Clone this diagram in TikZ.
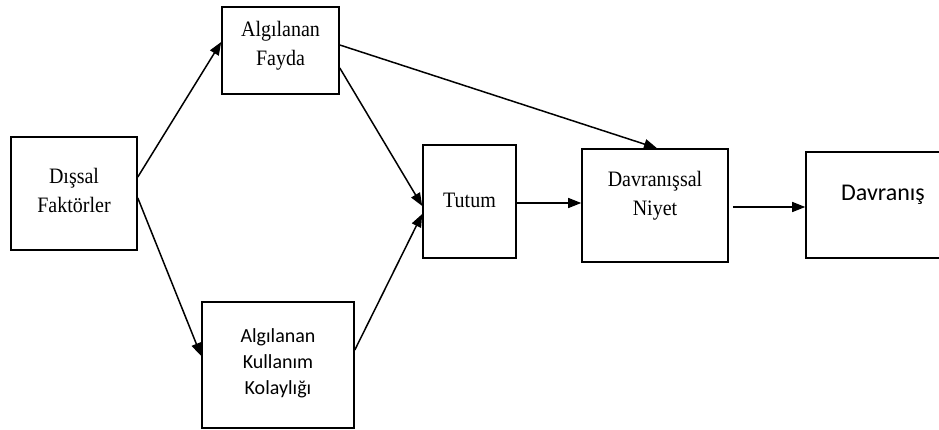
\documentclass[tikz,border=0pt]{standalone}
\usepackage{fontspec}
\usepackage{graphicx}
\setmainfont{Liberation Serif}
\newfontfamily\calibrifont{Carlito}
\usetikzlibrary{arrows.meta,calc}

% centred lines of text hung from the first baseline, which sits #1 above the
% node centre; the serif lines are stretched upright a little
\newcommand{\stackedtext}[2]{\raisebox{#1}[0pt][0pt]{%
  \scalebox{1}[1.1]{\begin{tabular}[t]{@{}c@{}}#2\end{tabular}}}}
\newcommand{\plainstack}[2]{\raisebox{#1}[0pt][0pt]{%
  \begin{tabular}[t]{@{}c@{}}#2\end{tabular}}}

\tikzset{
  box/.style={draw, line width=1.6pt, inner sep=0pt, align=center,
    font=\fontsize{20}{25.5}\selectfont},
  sansbox/.style={draw, line width=1.6pt, inner sep=0pt, align=center,
    font=\calibrifont\fontsize{20}{26}\selectfont},
  link/.style={line width=1.5pt, -{Triangle[length=13pt,width=10pt]}},
}

\begin{document}
\begin{tikzpicture}[x=1pt,y=-1pt]
  \useasboundingbox (0,0) rectangle (939,430);

  % boxes
  \node[box, minimum width=126pt, minimum height=113pt] (disal) at (74,193.5)
    {\stackedtext{9.5pt}{Dışsal\\Faktörler}};
  \node[box, minimum width=117pt, minimum height=87pt] (fayda) at (280.5,50.5)
    {\stackedtext{13.5pt}{Algılanan\\Fayda}};
  \node[sansbox, minimum width=152pt, minimum height=126pt] (kolay) at (278,365)
    {\plainstack{23pt}{Algılanan\\Kullanım\\Kolaylığı}};
  \node[box, minimum width=93pt, minimum height=113pt] (tutum) at (469.5,201.5)
    {\stackedtext{-6.5pt}{Tutum}};
  \node[box, minimum width=146pt, minimum height=113pt] (niyet) at (655,205.5)
    {\stackedtext{18.5pt}{Davranışsal\\Niyet}};
  \node[sansbox, font=\calibrifont\fontsize{24}{28}\selectfont,
        minimum width=154pt, minimum height=106pt] (davr) at (883,205)
    {\plainstack{4pt}{Davranış}};

  % connectors
  \draw[link] ($(disal.east)+(0,-16.5)$) -- ($(fayda.west)+(0,-8.5)$);
  \draw[link] ($(disal.east)+(0,4.5)$) -- ($(kolay.west)+(0,-9)$);
  \draw[link] ($(fayda.east)+(0,-5.5)$) -- ($(niyet.north)+(2,0)$);
  \draw[link] ($(fayda.east)+(0,17.5)$) -- ($(tutum.west)+(0,4.5)$);
  \draw[link] ($(kolay.east)+(0,-15)$) -- ($(tutum.west)+(0,12.5)$);
  \draw[link] ($(tutum.east)+(0,1.5)$) -- ($(niyet.west)+(0,-2.5)$);
  \draw[link] ($(niyet.east)+(4,1.5)$) -- ($(davr.west)+(0,2)$);
\end{tikzpicture}
\end{document}
